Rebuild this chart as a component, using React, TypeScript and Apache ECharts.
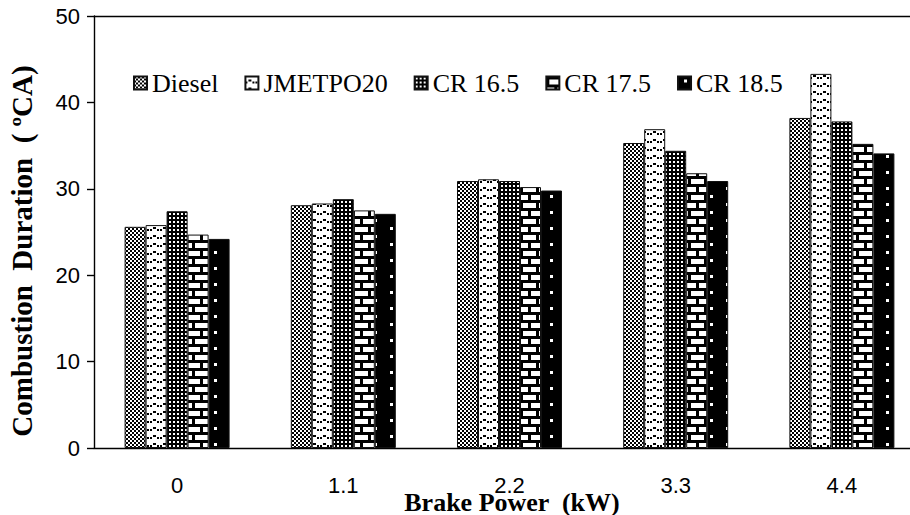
import React, { useEffect, useRef } from "react";
import * as echarts from "echarts";

// Brake power levels (kW) on the category axis
const categories = ["0", "1.1", "2.2", "3.3", "4.4"];

// Combustion duration (°CA) per fuel / compression ratio
const seriesNames = ["Diesel", "JMETPO20", "CR 16.5", "CR 17.5", "CR 18.5"];
const diesel = [25.6, 28.1, 30.9, 35.3, 38.2];
const jmetpo20 = [25.8, 28.3, 31.1, 36.9, 43.3];
const cr165 = [27.4, 28.8, 30.9, 34.4, 37.8];
const cr175 = [24.7, 27.5, 30.2, 31.8, 35.2];
const cr185 = [24.2, 27.1, 29.8, 30.9, 34.1];

// Y axis range and step
const yMin = 0;
const yMax = 50;
const yStep = 10;

const WIDTH = 910;
const HEIGHT = 515;

const SERIF = "Liberation Serif, Times New Roman, serif";
const SANS = "Liberation Sans, Arial, sans-serif";

type Draw = (ctx: CanvasRenderingContext2D, w: number, h: number) => void;

function makeTile(w: number, h: number, draw: Draw): HTMLCanvasElement {
  const c = document.createElement("canvas");
  c.width = w;
  c.height = h;
  const ctx = c.getContext("2d") as CanvasRenderingContext2D;
  draw(ctx, w, h);
  return c;
}

// Monochrome hatch fills used for each bar series
function buildPatterns(): HTMLCanvasElement[] {
  // fine checkerboard
  const checker = makeTile(4, 4, (ctx) => {
    ctx.fillStyle = "#fff";
    ctx.fillRect(0, 0, 4, 4);
    ctx.fillStyle = "#000";
    ctx.fillRect(0, 0, 2, 2);
    ctx.fillRect(2, 2, 2, 2);
  });
  // dashed carets on white
  const carets = makeTile(10, 8, (ctx) => {
    ctx.fillStyle = "#fff";
    ctx.fillRect(0, 0, 10, 8);
    ctx.fillStyle = "#000";
    ctx.fillRect(0, 5, 2, 2);
    ctx.fillRect(3, 3, 3, 2);
    ctx.fillRect(7, 5, 2, 2);
  });
  // black with small white dots
  const dots = makeTile(4, 4, (ctx) => {
    ctx.fillStyle = "#000";
    ctx.fillRect(0, 0, 4, 4);
    ctx.fillStyle = "#fff";
    ctx.fillRect(1, 1, 2, 2);
  });
  // brick wall
  const bricks = makeTile(16, 16, (ctx) => {
    ctx.fillStyle = "#000";
    ctx.fillRect(0, 0, 16, 16);
    ctx.fillStyle = "#fff";
    ctx.fillRect(3, 3, 13, 5);
    ctx.fillRect(0, 11, 8, 5);
    ctx.fillRect(11, 11, 5, 5);
  });
  // black with sparse staggered white squares
  const sparse = makeTile(32, 16, (ctx) => {
    ctx.fillStyle = "#000";
    ctx.fillRect(0, 0, 32, 16);
    ctx.fillStyle = "#fff";
    ctx.fillRect(6, 3, 3, 3);
    ctx.fillRect(22, 11, 3, 3);
  });
  return [checker, carets, dots, bricks, sparse];
}

export default function App() {
  const ref = useRef<HTMLDivElement>(null);

  useEffect(() => {
    if (!ref.current) return;
    document.body.style.margin = "0";
    document.documentElement.style.overflow = "hidden";
    const chart = echarts.init(ref.current, undefined, {
      renderer: "svg",
      width: WIDTH,
      height: HEIGHT,
    });
    const patterns = buildPatterns();
    const values = [diesel, jmetpo20, cr165, cr175, cr185];

    const series = seriesNames.map((name, i) => ({
      name,
      type: "bar" as const,
      data: values[i],
      barWidth: 21,
      barGap: "0%",
      xAxisIndex: 0,
      itemStyle: {
        color: { image: patterns[i], repeat: "repeat" },
        borderColor: "#111",
        borderWidth: 1,
      },
    }));

    chart.setOption({
      animation: false,
      backgroundColor: "#fff",
      grid: {
        left: 94,
        right: -15,
        top: 16,
        bottom: 67,
        containLabel: false,
        outerBoundsMode: "none",
      },
      legend: {
        data: seriesNames,
        left: 128,
        top: 65,
        itemGap: 26,
        itemWidth: 13,
        itemHeight: 13,
        icon: "rect",
        textStyle: { fontFamily: SERIF, fontSize: 26, color: "#000" },
      },
      xAxis: [
        {
          type: "category",
          data: categories,
          position: "bottom",
          axisLine: { show: true, lineStyle: { color: "#000", width: 1.4 } },
          axisTick: { show: false },
          axisLabel: {
            fontFamily: SANS,
            fontSize: 22,
            color: "#000",
            margin: 26,
          },
        },
        {
          type: "category",
          data: categories,
          position: "top",
          axisLine: { show: true, lineStyle: { color: "#000", width: 1.4 } },
          axisTick: { show: false },
          axisLabel: { show: false },
        },
      ],
      yAxis: {
        type: "value",
        min: yMin,
        max: yMax,
        interval: yStep,
        axisLine: { show: true, lineStyle: { color: "#000", width: 1.4 } },
        axisTick: {
          show: true,
          inside: false,
          length: 7,
          lineStyle: { color: "#000", width: 1.4 },
        },
        splitLine: { show: false },
        axisLabel: {
          fontFamily: SANS,
          fontSize: 22,
          color: "#000",
          margin: 14,
        },
      },
      graphic: [
        {
          type: "text",
          x: 22,
          y: 251,
          rotation: Math.PI / 2,
          style: {
            text: "Combustion  Duration  ( ºCA)",
            fontFamily: SERIF,
            fontSize: 29,
            fontWeight: "bold",
            fill: "#000",
            textAlign: "center",
            textVerticalAlign: "middle",
          },
        },
        {
          type: "text",
          x: 512,
          y: 502,
          style: {
            text: "Brake Power  (kW)",
            fontFamily: SERIF,
            fontSize: 26,
            fontWeight: "bold",
            fill: "#000",
            textAlign: "center",
            textVerticalAlign: "middle",
          },
        },
      ],
      series,
    });

    return () => chart.dispose();
  }, []);

  return (
    <div
      ref={ref}
      style={{ position: "fixed", left: 0, top: 0, width: WIDTH, height: HEIGHT }}
    />
  );
}
